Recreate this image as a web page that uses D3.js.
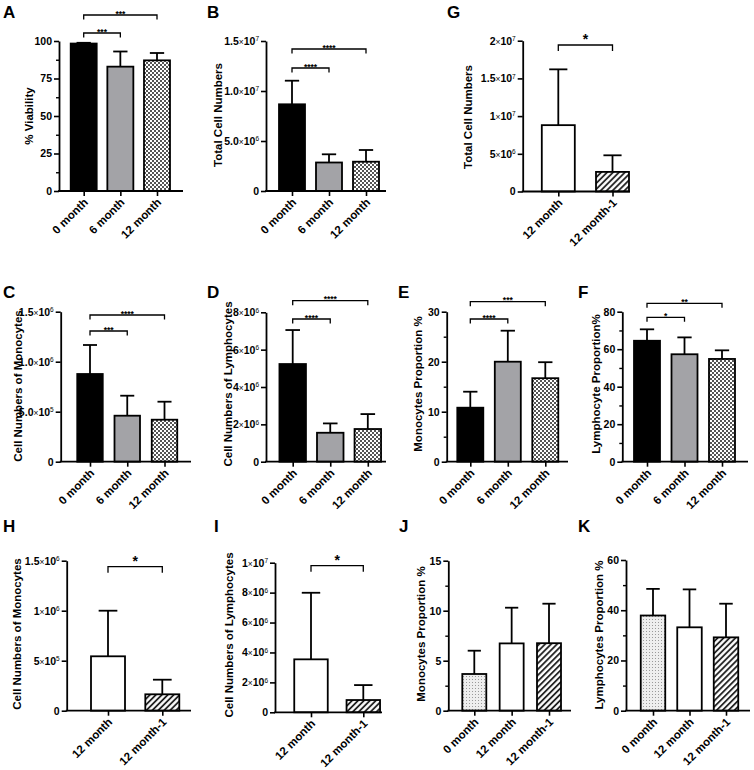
<!DOCTYPE html>
<html><head><meta charset="utf-8">
<script src="https://cdn.jsdelivr.net/npm/d3@7"></script>
<style>
body{margin:0;background:#fff}
svg{display:block}
text{font-family:"Liberation Sans",Arial,sans-serif;font-weight:bold;fill:#000}
</style></head><body>
<svg id="chart" width="754" height="770"></svg>
<script>
// ---------------- DATA ----------------
const catsTime = ["0 month", "6 month", "12 month"];
const catsPair = ["12 month", "12 month-1"];
const catsTriple = ["0 month", "12 month", "12 month-1"];

const fillsTime = ["black", "grey", "checker"];
const fillsPair = ["white", "hatch"];
const fillsTriple = ["dots", "white", "hatch"];

// A: % Viability
const viabilityMean = [98.3, 82.9, 87.1];
const viabilitySD = [0.5, 10.1, 4.9];
// B: Total cell numbers
const totalMean = [8.67e6, 2.85e6, 2.93e6];
const totalSD = [2.36e6, 0.82e6, 1.17e6];
// G: Total cell numbers (12 month vs 12 month-1)
const totalPairMean = [8.8e6, 2.6e6];
const totalPairSD = [7.4e6, 2.2e6];
// C: Monocyte numbers
const monoMean = [0.877e6, 0.46e6, 0.42e6];
const monoSD = [0.29e6, 0.2e6, 0.18e6];
// D: Lymphocyte numbers
const lymphMean = [5.23e6, 1.55e6, 1.75e6];
const lymphSD = [1.82e6, 0.5e6, 0.8e6];
// E: Monocyte proportion
const monoPropMean = [10.8, 20.0, 16.7];
const monoPropSD = [3.2, 6.2, 3.2];
// F: Lymphocyte proportion
const lymphPropMean = [64.5, 57.3, 54.8];
const lymphPropSD = [6.1, 9.0, 4.6];
// H: Monocyte numbers (pair)
const monoPairMean = [0.544e6, 0.164e6];
const monoPairSD = [0.456e6, 0.146e6];
// I: Lymphocyte numbers (pair)
const lymphPairMean = [3.54e6, 0.82e6];
const lymphPairSD = [4.45e6, 1.0e6];
// J: Monocyte proportion (triple)
const monoPropTripleMean = [3.67, 6.73, 6.75];
const monoPropTripleSD = [2.33, 3.57, 3.95];
// K: Lymphocyte proportion (triple)
const lymphPropTripleMean = [37.9, 33.2, 29.2];
const lymphPropTripleSD = [10.6, 15.1, 13.4];

// tick values and labels
const ticksA = [0, 25, 50, 75, 100], labelsA = ["0", "25", "50", "75", "100"], minorA = [12.5, 37.5, 62.5, 87.5];
const ticksB = [0, 5e6, 1e7, 1.5e7], labelsB = ["0", "5.0×10^6", "1.0×10^7", "1.5×10^7"];
const ticksG = [0, 5e6, 1e7, 1.5e7, 2e7], labelsG = ["0", "5×10^6", "1×10^7", "1.5×10^7", "2×10^7"];
const ticksC = [0, 5e5, 1e6, 1.5e6], labelsC = ["0", "5.0×10^5", "1.0×10^6", "1.5×10^6"];
const ticksD = [0, 2e6, 4e6, 6e6, 8e6], labelsD = ["0", "2×10^6", "4×10^6", "6×10^6", "8×10^6"];
const ticksE = [0, 10, 20, 30], labelsE = ["0", "10", "20", "30"], minorE = [5, 15, 25];
const ticksF = [0, 20, 40, 60, 80], labelsF = ["0", "20", "40", "60", "80"], minorF = [10, 30, 50, 70];
const ticksH = [0, 5e5, 1e6, 1.5e6], labelsH = ["0", "5×10^5", "1×10^6", "1.5×10^6"];
const ticksI = [0, 2e6, 4e6, 6e6, 8e6, 1e7], labelsI = ["0", "2×10^6", "4×10^6", "6×10^6", "8×10^6", "1×10^7"];
const ticksJ = [0, 5, 10, 15], labelsJ = ["0", "5", "10", "15"], minorJ = [2.5, 7.5, 12.5];
const ticksK = [0, 20, 40, 60], labelsK = ["0", "20", "40", "60"], minorK = [10, 30, 50];

// significance brackets: [fromIndex, toIndex, label]
const sigA = [[0, 1, "***"], [0, 2, "***"]];
const sigB = [[0, 1, "****"], [0, 2, "****"]];
const sigG = [[0, 1, "*"]];
const sigC = [[0, 1, "***"], [0, 2, "****"]];
const sigD = [[0, 1, "****"], [0, 2, "****"]];
const sigE = [[0, 1, "****"], [0, 2, "***"]];
const sigF = [[0, 1, "*"], [0, 2, "**"]];
const sigH = [[0, 1, "*"]];
const sigI = [[0, 1, "*"]];

// ---------------- DRAW ----------------
const svg = d3.select("#chart");
const defs = svg.append("defs");

const ck = defs.append("pattern").attr("id", "checker").attr("patternUnits", "userSpaceOnUse")
  .attr("width", 4).attr("height", 4);
ck.append("rect").attr("width", 4).attr("height", 4).attr("fill", "#fff");
ck.append("rect").attr("width", 2).attr("height", 2).attr("fill", "#555");
ck.append("rect").attr("x", 2).attr("y", 2).attr("width", 2).attr("height", 2).attr("fill", "#555");

const ht = defs.append("pattern").attr("id", "hatch").attr("patternUnits", "userSpaceOnUse")
  .attr("width", 4.2).attr("height", 4.2).attr("patternTransform", "rotate(45)");
ht.append("rect").attr("width", 4.2).attr("height", 4.2).attr("fill", "#fff");
ht.append("line").attr("x1", 1).attr("y1", 0).attr("x2", 1).attr("y2", 4.2)
  .attr("stroke", "#111").attr("stroke-width", 1.7);

const dt = defs.append("pattern").attr("id", "dots").attr("patternUnits", "userSpaceOnUse")
  .attr("width", 3).attr("height", 3);
dt.append("rect").attr("width", 3).attr("height", 3).attr("fill", "#eeeeee");
dt.append("rect").attr("x", 1).attr("y", 1).attr("width", 1).attr("height", 1).attr("fill", "#9a9a9a");

const fillMap = {
  black: "#000", grey: "#a3a3a7", checker: "url(#checker)",
  white: "#fff", hatch: "url(#hatch)", dots: "url(#dots)"
};

function writeLabel(textSel, str) {
  textSel.text(null);
  const parts = str.split("^");
  const base = parts[0];
  if (base.includes("×")) {
    const [m, rest] = base.split("×");
    textSel.append("tspan").text(m);
    textSel.append("tspan").attr("font-size", "0.8em").attr("font-weight", "normal").text("×");
    textSel.append("tspan").text(rest);
  } else {
    textSel.append("tspan").text(base);
  }
  if (parts.length > 1) {
    textSel.append("tspan").attr("font-size", "0.62em").attr("font-weight", "normal")
      .attr("dy", "-0.55em").text(parts[1]);
  }
}

function panel(p) {
  const g = svg.append("g");
  const y = d3.scaleLinear().domain([0, p.max]).range([p.bot, p.top]);
  const x = d3.scalePoint().domain(p.cats).range([p.c0, p.c1]);
  const capW = p.bw * 0.55;

  // bars
  g.selectAll("rect.bar").data(p.cats).join("rect")
    .attr("x", d => x(d) - p.bw / 2)
    .attr("y", (d, i) => y(p.mean[i]))
    .attr("width", p.bw)
    .attr("height", (d, i) => p.bot - y(p.mean[i]))
    .attr("fill", (d, i) => fillMap[p.fills[i]])
    .attr("stroke", "#000").attr("stroke-width", 1.8);

  // error bars (upper)
  const eg = g.append("g").attr("stroke", "#000").attr("stroke-width", 1.8);
  p.cats.forEach((c, i) => {
    const cx = x(c), y0 = y(p.mean[i]), y1 = y(p.mean[i] + p.sd[i]);
    eg.append("line").attr("x1", cx).attr("x2", cx).attr("y1", y0).attr("y2", y1);
    eg.append("line").attr("x1", cx - capW / 2).attr("x2", cx + capW / 2).attr("y1", y1).attr("y2", y1);
  });

  // y axis
  const ya = g.append("g").attr("transform", `translate(${p.ax},0)`)
    .call(d3.axisLeft(y).tickValues(p.ticks).tickSize(5).tickSizeOuter(0).tickPadding(2));
  ya.select(".domain").attr("stroke-width", 1.8);
  ya.selectAll(".tick line").attr("stroke-width", 1.6);
  ya.selectAll(".tick text").attr("font-size", 10.5).attr("font-family", null)
    .each(function (d, i) { writeLabel(d3.select(this), p.labels[i]); });
  if (p.minor) {
    const ym = g.append("g").attr("transform", `translate(${p.ax},0)`)
      .call(d3.axisLeft(y).tickValues(p.minor).tickSize(3).tickFormat(""));
    ym.select(".domain").remove();
    ym.selectAll(".tick line").attr("stroke-width", 1.4);
  }

  // x axis
  g.append("line").attr("x1", p.ax - 0.9).attr("x2", p.xEnd).attr("y1", p.bot).attr("y2", p.bot)
    .attr("stroke", "#000").attr("stroke-width", 1.8);
  const xa = g.append("g").attr("transform", `translate(0,${p.bot})`)
    .call(d3.axisBottom(x).tickSize(5).tickFormat(""));
  xa.select(".domain").remove();
  xa.selectAll(".tick line").attr("stroke-width", 1.6);
  g.selectAll("text.xl").data(p.cats).join("text").attr("class", "xl")
    .attr("transform", d => `translate(${x(d) + 5},${p.bot + 12}) rotate(-45)`)
    .attr("text-anchor", "end").attr("font-size", 11.5).text(d => d);

  // brackets
  (p.sig || []).forEach((s, k) => {
    const x1 = x(p.cats[s[0]]), x2 = x(p.cats[s[1]]), by = p.sigY[k];
    g.append("path").attr("d", `M${x1},${by + p.arm}V${by}H${x2}V${by + p.arm}`)
      .attr("fill", "none").attr("stroke", "#000").attr("stroke-width", 1.3);
    g.append("text").attr("x", (x1 + x2) / 2).attr("y", by + p.starDy)
      .attr("text-anchor", "middle").attr("font-size", p.starSize).text(s[2]);
  });

  // y title
  g.append("text").attr("transform", `translate(${p.tx},${p.ty}) rotate(-90)`)
    .attr("text-anchor", "middle").attr("font-size", 11.5).text(p.title);

  // panel letter
  g.append("text").attr("x", p.lx).attr("y", p.ly).attr("font-size", 17).text(p.letter);
}

const small = { arm: 4.5, starSize: 8.5, starDy: 1.5 };
const big = { arm: 6, starSize: 14, starDy: -1 };

panel({ letter: "A", lx: 3, ly: 18, cats: catsTime, mean: viabilityMean, sd: viabilitySD, fills: fillsTime,
  max: 100, top: 41, bot: 191, ax: 59, xEnd: 183, c0: 83.7, c1: 157, bw: 26,
  ticks: ticksA, labels: labelsA, minor: minorA, sig: sigA, sigY: [33, 15], ...small,
  title: "% Viability", tx: 33, ty: 116 });

panel({ letter: "B", lx: 207, ly: 18, cats: catsTime, mean: totalMean, sd: totalSD, fills: fillsTime,
  max: 1.5e7, top: 41, bot: 191, ax: 266, xEnd: 386, c0: 292, c1: 366, bw: 26,
  ticks: ticksB, labels: labelsB, sig: sigB, sigY: [68, 49], ...small,
  title: "Total Cell Numbers", tx: 222, ty: 115 });

panel({ letter: "G", lx: 447, ly: 18, cats: catsPair, mean: totalPairMean, sd: totalPairSD, fills: fillsPair,
  max: 2e7, top: 40.7, bot: 191.5, ax: 522.7, xEnd: 630, c0: 558.3, c1: 612.5, bw: 33,
  ticks: ticksG, labels: labelsG, sig: sigG, sigY: [45], ...big,
  title: "Total Cell Numbers", tx: 472, ty: 117 });

panel({ letter: "C", lx: 3, ly: 298, cats: catsTime, mean: monoMean, sd: monoSD, fills: fillsTime,
  max: 1.5e6, top: 311.7, bot: 461.7, ax: 60.7, xEnd: 191, c0: 90, c1: 164.5, bw: 25.5,
  ticks: ticksC, labels: labelsC, sig: sigC, sigY: [331, 315], ...small,
  title: "Cell Numbers of Monocytes", tx: 22, ty: 386 });

panel({ letter: "D", lx: 207, ly: 298, cats: catsTime, mean: lymphMean, sd: lymphSD, fills: fillsTime,
  max: 8e6, top: 312.3, bot: 461.7, ax: 266, xEnd: 386, c0: 292.7, c1: 367.8, bw: 26.5,
  ticks: ticksD, labels: labelsD, sig: sigD, sigY: [319, 300.7], ...small,
  title: "Cell Numbers of Lymphocytes", tx: 232, ty: 384 });

panel({ letter: "E", lx: 398, ly: 298, cats: catsTime, mean: monoPropMean, sd: monoPropSD, fills: fillsTime,
  max: 30, top: 311.7, bot: 461.7, ax: 446.7, xEnd: 568, c0: 470.3, c1: 545.3, bw: 26,
  ticks: ticksE, labels: labelsE, minor: minorE, sig: sigE, sigY: [319, 301.7], ...small,
  title: "Monocytes Proportion %", tx: 422, ty: 384 });

panel({ letter: "F", lx: 578, ly: 298, cats: catsTime, mean: lymphPropMean, sd: lymphPropSD, fills: fillsTime,
  max: 80, top: 311.7, bot: 461.7, ax: 622.3, xEnd: 748, c0: 647, c1: 722, bw: 26,
  ticks: ticksF, labels: labelsF, minor: minorF, sig: sigF, sigY: [317.3, 303.3], ...small,
  title: "Lymphocyte Proportion%", tx: 600, ty: 384 });

panel({ letter: "H", lx: 3, ly: 532, cats: catsPair, mean: monoPairMean, sd: monoPairSD, fills: fillsPair,
  max: 1.5e6, top: 560.7, bot: 710.7, ax: 66.7, xEnd: 191, c0: 108, c1: 162.3, bw: 34,
  ticks: ticksH, labels: labelsH, sig: sigH, sigY: [566.7], ...big,
  title: "Cell Numbers of Monocytes", tx: 21, ty: 634 });

panel({ letter: "I", lx: 214, ly: 532, cats: catsPair, mean: lymphPairMean, sd: lymphPairSD, fills: fillsPair,
  max: 1e7, top: 562.7, bot: 712.3, ax: 275, xEnd: 382, c0: 311, c1: 363.3, bw: 33.5,
  ticks: ticksI, labels: labelsI, sig: sigI, sigY: [565.7], ...big,
  title: "Cell Numbers of Lymphocytes", tx: 233, ty: 635 });

panel({ letter: "J", lx: 399, ly: 532, cats: catsTriple, mean: monoPropTripleMean, sd: monoPropTripleSD, fills: fillsTriple,
  max: 15, top: 560.7, bot: 710.7, ax: 448.3, xEnd: 571, c0: 474.3, c1: 549, bw: 24,
  ticks: ticksJ, labels: labelsJ, minor: minorJ,
  title: "Monocytes Proportion %", tx: 425, ty: 634 });

panel({ letter: "K", lx: 578, ly: 532, cats: catsTriple, mean: lymphPropTripleMean, sd: lymphPropTripleSD, fills: fillsTriple,
  max: 60, top: 560, bot: 710.7, ax: 626, xEnd: 750, c0: 653, c1: 726, bw: 24.5,
  ticks: ticksK, labels: labelsK, minor: minorK,
  title: "Lymphocytes Proportion %", tx: 603, ty: 635 });
</script>
</body></html>
